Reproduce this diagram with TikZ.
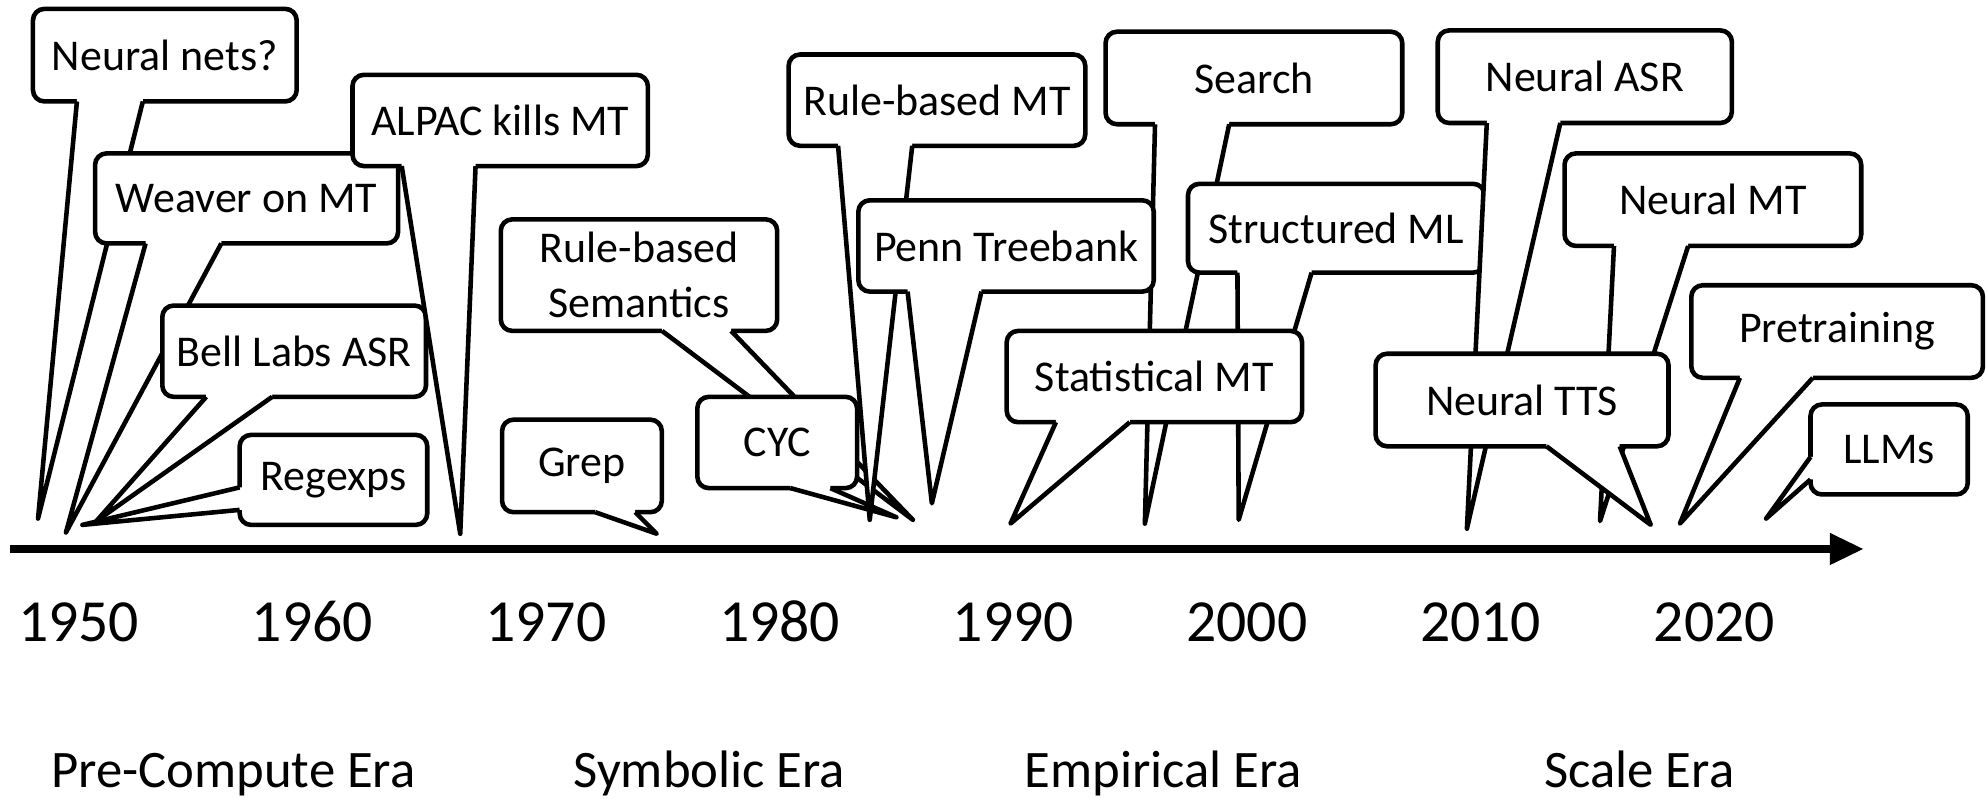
\documentclass[tikz,border=0pt]{standalone}
\usepackage{fontspec}
\setmainfont{Carlito}
\usetikzlibrary{arrows.meta,calc}

\newlength\px
\setlength\px{0.01268cm}

\tikzset{
    bubble/.style={rectangle, rounded corners=9\px, draw, fill=white, line width=1.3pt,
        outer sep=0pt, inner sep=0pt, align=center, font=\fontsize{12.5}{15.5}\selectfont},
    pointer/.style={line width=1.3pt, line join=round},
    year/.style={anchor=base, font=\fontsize{17}{20}\selectfont},
    era/.style={anchor=base, font=\fontsize{15}{18}\selectfont},
    timeline/.style={line width=2.2pt, -{Triangle[length=0.34cm, width=0.3cm]}}
}

% tail of a callout, base on the bottom side
\newcommand\bottomtail[4]{%
    \coordinate (p1) at ($(#1.south west)!#2!(#1.south east)$);
    \coordinate (p2) at ($(#1.south west)!#3!(#1.south east)$);
    \fill[white] (p1) -- (#4) -- (p2) -- ([yshift=1.4pt]p2) -- ([yshift=1.4pt]p1) -- cycle;
    \draw[pointer] (p1) -- (#4) -- (p2);
}
% tail of a callout, base on the left side
\newcommand\lefttail[4]{%
    \coordinate (p1) at ($(#1.north west)!#2!(#1.south west)$);
    \coordinate (p2) at ($(#1.north west)!#3!(#1.south west)$);
    \fill[white] (p1) -- (#4) -- (p2) -- ([xshift=1.4pt]p2) -- ([xshift=1.4pt]p1) -- cycle;
    \draw[pointer] (p1) -- (#4) -- (p2);
}

\begin{document}
\begin{tikzpicture}[x=\px, y=-\px]
    \useasboundingbox (0,0) rectangle (1568,630);

    % Pre-compute era
    \node [bubble, minimum width=208\px, minimum height=73\px] (nets) at (130,43.5) {Neural nets?};
    \coordinate (nets-tip) at (30,409);
    \bottomtail{nets}{0.1667}{0.4167}{nets-tip}

    \node [bubble, minimum width=239\px, minimum height=71\px] (weaver) at (194.5,156.5) {Weaver on MT};
    \coordinate (weaver-tip) at (52,420);
    \bottomtail{weaver}{0.1667}{0.4167}{weaver-tip}

    \node [bubble, minimum width=208\px, minimum height=72\px] (bell) at (232,277) {Bell Labs ASR};
    \coordinate (bell-tip) at (76,411);
    \bottomtail{bell}{0.1667}{0.4167}{bell-tip}

    \node [bubble, minimum width=148\px, minimum height=71\px] (regex) at (263,378.5) {Regexps};
    \coordinate (regex-tip) at (65,414);
    \lefttail{regex}{0.5833}{0.8333}{regex-tip}

    \node [bubble, minimum width=233\px, minimum height=72\px] (alpac) at (394.5,95) {ALPAC kills MT};
    \coordinate (alpac-tip) at (363,421);
    \bottomtail{alpac}{0.1667}{0.4167}{alpac-tip}

    % Symbolic era
    \node [bubble, minimum width=126\px, minimum height=73\px] (grep) at (459,367.5) {Grep};
    \coordinate (grep-tip) at (518,421);
    \bottomtail{grep}{0.5833}{0.8333}{grep-tip}

    \node [bubble, minimum width=218\px, minimum height=88\px] (rbsem) at (504,217) {Rule-based\\Semantics};
    \coordinate (rbsem-tip) at (720,410);
    \bottomtail{rbsem}{0.5833}{0.8333}{rbsem-tip}

    \node [bubble, minimum width=126\px, minimum height=72\px] (cyc) at (613,349) {CYC};
    \coordinate (cyc-tip) at (707,408);
    \bottomtail{cyc}{0.5833}{0.8333}{cyc-tip}

    \node [bubble, minimum width=234\px, minimum height=72\px] (rbmt) at (739,79) {Rule-based MT};
    \coordinate (rbmt-tip) at (686,410);
    \bottomtail{rbmt}{0.1667}{0.4167}{rbmt-tip}

    % Empirical era
    \node [bubble, minimum width=234\px, minimum height=73\px] (search) at (989,61.5) {Search};
    \coordinate (search-tip) at (903,413);
    \bottomtail{search}{0.1667}{0.4167}{search-tip}

    \node [bubble, minimum width=233\px, minimum height=72\px] (penn) at (793.5,194) {Penn Treebank};
    \coordinate (penn-tip) at (735,397);
    \bottomtail{penn}{0.1667}{0.4167}{penn-tip}

    \node [bubble, minimum width=234\px, minimum height=70\px] (sml) at (1054,180) {Structured ML};
    \coordinate (sml-tip) at (977,410);
    \bottomtail{sml}{0.1667}{0.4167}{sml-tip}

    \node [bubble, minimum width=233\px, minimum height=72\px] (smt) at (910.5,297) {Statistical MT};
    \coordinate (smt-tip) at (797,413);
    \bottomtail{smt}{0.1667}{0.4167}{smt-tip}

    % Scale era
    \node [bubble, minimum width=232\px, minimum height=73\px] (nasr) at (1250,60.5) {Neural ASR};
    \coordinate (nasr-tip) at (1157,417);
    \bottomtail{nasr}{0.1667}{0.4167}{nasr-tip}

    \node [bubble, minimum width=234\px, minimum height=73\px] (nmt) at (1351,157.5) {Neural MT};
    \coordinate (nmt-tip) at (1262,411);
    \bottomtail{nmt}{0.1667}{0.4167}{nmt-tip}

    \node [bubble, minimum width=231\px, minimum height=73\px] (ntts) at (1200.5,315.5) {Neural TTS};
    \coordinate (ntts-tip) at (1302,414);
    \bottomtail{ntts}{0.5833}{0.8333}{ntts-tip}

    \node [bubble, minimum width=230\px, minimum height=73\px] (pre) at (1449,261.5) {Pretraining};
    \coordinate (pre-tip) at (1325,413);
    \bottomtail{pre}{0.1667}{0.4167}{pre-tip}

    \node [bubble, minimum width=124\px, minimum height=71\px] (llms) at (1490,354.5) {LLMs};
    \coordinate (llms-tip) at (1393,409);
    \lefttail{llms}{0.5833}{0.8333}{llms-tip}

    % Time axis
    \coordinate (axis-start) at (8,433);
    \coordinate (axis-end) at (1470,433);
    \draw [timeline] (axis-start) -- (axis-end);

    \foreach \yr [count=\i from 0] in {1950,1960,1970,1980,1990,2000,2010,2020}
        \node [year] (y\yr) at (62+184.3*\i,506) {\yr};

    % Eras
    \node [era] (precompute) at (184,621) {Pre-Compute Era};
    \node [era] (symbolic) at (559.5,621) {Symbolic Era};
    \node [era] (empirical) at (917.5,621) {Empirical Era};
    \node [era] (scale) at (1293,621) {Scale Era};
\end{tikzpicture}
\end{document}
